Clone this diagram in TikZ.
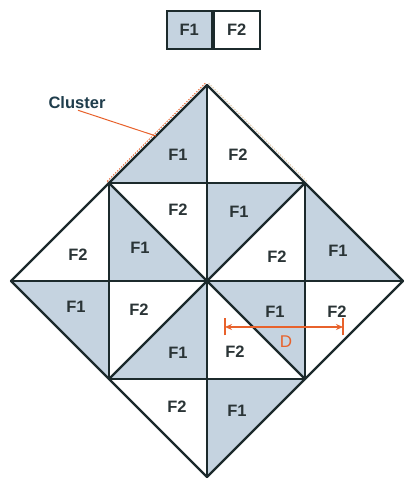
\documentclass[tikz,border=0pt]{standalone}
\usepackage{fontspec}
\setmainfont{Liberation Sans}
\usetikzlibrary{arrows.meta}
\definecolor{shade}{HTML}{C5D3E0}
\definecolor{edge}{HTML}{1C2A2C}
\definecolor{lbl}{HTML}{2A3436}
\definecolor{orng}{HTML}{E8622C}
\definecolor{clus}{HTML}{1F3D4C}
\definecolor{tan}{HTML}{E2C9A8}
\begin{document}
\begin{tikzpicture}[x=1pt,y=1pt,
  cell/.style={fill=shade},
  gridline/.style={draw=edge, line width=2.4pt, line cap=round, line join=round},
  lab/.style={font=\bfseries\fontsize{16.5}{16.5}\selectfont, text=lbl, inner sep=0pt},
  legcell/.style={draw=edge, line width=2pt, minimum width=45.5pt, minimum height=38pt, inner sep=0pt,
    font=\bfseries\fontsize{16.5}{16.5}\selectfont, text=lbl},
  clusterdots/.style={draw=orng, line width=0.9pt, dash pattern=on 1.4pt off 1.4pt},
  dim/.style={draw=orng, line width=1.4pt}]
\useasboundingbox (0,0) rectangle (404,481);
\fill[white] (0,0) rectangle (404,481);
% grid points
\coordinate (Top) at (207,396);
\coordinate (Left) at (11,200);
\coordinate (Right) at (403,200);
\coordinate (Bot) at (207,4);
\coordinate (TL) at (109,298);
\coordinate (TM) at (207,298);
\coordinate (TR) at (305,298);
\coordinate (ML) at (109,200);
\coordinate (O) at (207,200);
\coordinate (MR) at (305,200);
\coordinate (BL) at (109,102);
\coordinate (BM) at (207,102);
\coordinate (BR) at (305,102);
% F1 shaded triangles
\fill[cell] (TL)--(Top)--(TM)--cycle;
\fill[cell] (TL)--(ML)--(O)--cycle;
\fill[cell] (TM)--(TR)--(O)--cycle;
\fill[cell] (TR)--(Right)--(MR)--cycle;
\fill[cell] (Left)--(ML)--(BL)--cycle;
\fill[cell] (O)--(BM)--(BL)--cycle;
\fill[cell] (O)--(MR)--(BR)--cycle;
\fill[cell] (BM)--(BR)--(Bot)--cycle;
% cluster outline (dotted)
\draw[clusterdots] ([shift={(-1.8,1.8)}]TL) -- ([shift={(-1.8,1.8)}]Top);
\draw[clusterdots] ([shift={(-1.6,1.6)}]TL) -- ([shift={(-1.6,1.6)}]O);
\draw[draw=tan, line width=0.9pt, dash pattern=on 1.4pt off 1.4pt] ([shift={(1.8,1.8)}]Top) -- ([shift={(1.8,1.8)}]TR);
% grid lines
\draw[gridline] (TL) -- (TR);
\draw[gridline] (Left) -- (Right);
\draw[gridline] (BL) -- (BR);
\draw[gridline] (Top) -- (Bot);
\draw[gridline] (TL) -- (BL);
\draw[gridline] (TR) -- (BR);
\draw[gridline] (TL) -- (BR);
\draw[gridline] (TR) -- (BL);
\draw[gridline] (Top) -- (Right) -- (Bot) -- (Left) -- cycle;
% labels
\node[lab] (r1a) at (178,326) {F1};
\node[lab] (r1b) at (238,326) {F2};
\node[lab] (r2a) at (78,226) {F2};
\node[lab] (r2b) at (178,271) {F2};
\node[lab] (r2c) at (140,233) {F1};
\node[lab] (r2d) at (239,269) {F1};
\node[lab] (r2e) at (277,224) {F2};
\node[lab] (r2f) at (338,230) {F1};
\node[lab] (r3a) at (76,174) {F1};
\node[lab] (r3b) at (139,171) {F2};
\node[lab] (r3c) at (178,128) {F1};
\node[lab] (r3d) at (275,169) {F1};
\node[lab] (r3e) at (235,129) {F2};
\node[lab] (r3f) at (337,169) {F2};
\node[lab] (r4a) at (177,74) {F2};
\node[lab] (r4b) at (237,70) {F1};
% legend
\node[legcell, fill=shade] (leg1) at (189.25,451) {F1};
\node[legcell, anchor=west] (leg2) at (leg1.east) {F2};
% cluster annotation
\node[font=\bfseries\fontsize{16.5}{16.5}\selectfont, text=clus, inner sep=1pt] (clus) at (77,378) {Cluster};
\coordinate (cedge) at (156,345);
\draw[draw=orng, line width=1pt] ([xshift=1pt]clus.south) -- (cedge);
% distance D
\coordinate (dl) at (225,154);
\coordinate (dr) at (343,154);
\draw[dim] ([yshift=-8.5pt]dl) -- ([yshift=8.5pt]dl);
\draw[dim] ([yshift=-8.5pt]dr) -- ([yshift=8.5pt]dr);
\draw[dim, {Stealth[length=7pt,width=6pt]}-{Stealth[length=7pt,width=6pt]}] (dl) -- (dr);
\node[font=\fontsize{17}{17}\selectfont, text=orng, inner sep=0pt] (dlab) at (286,139) {D};
\end{tikzpicture}
\end{document}
